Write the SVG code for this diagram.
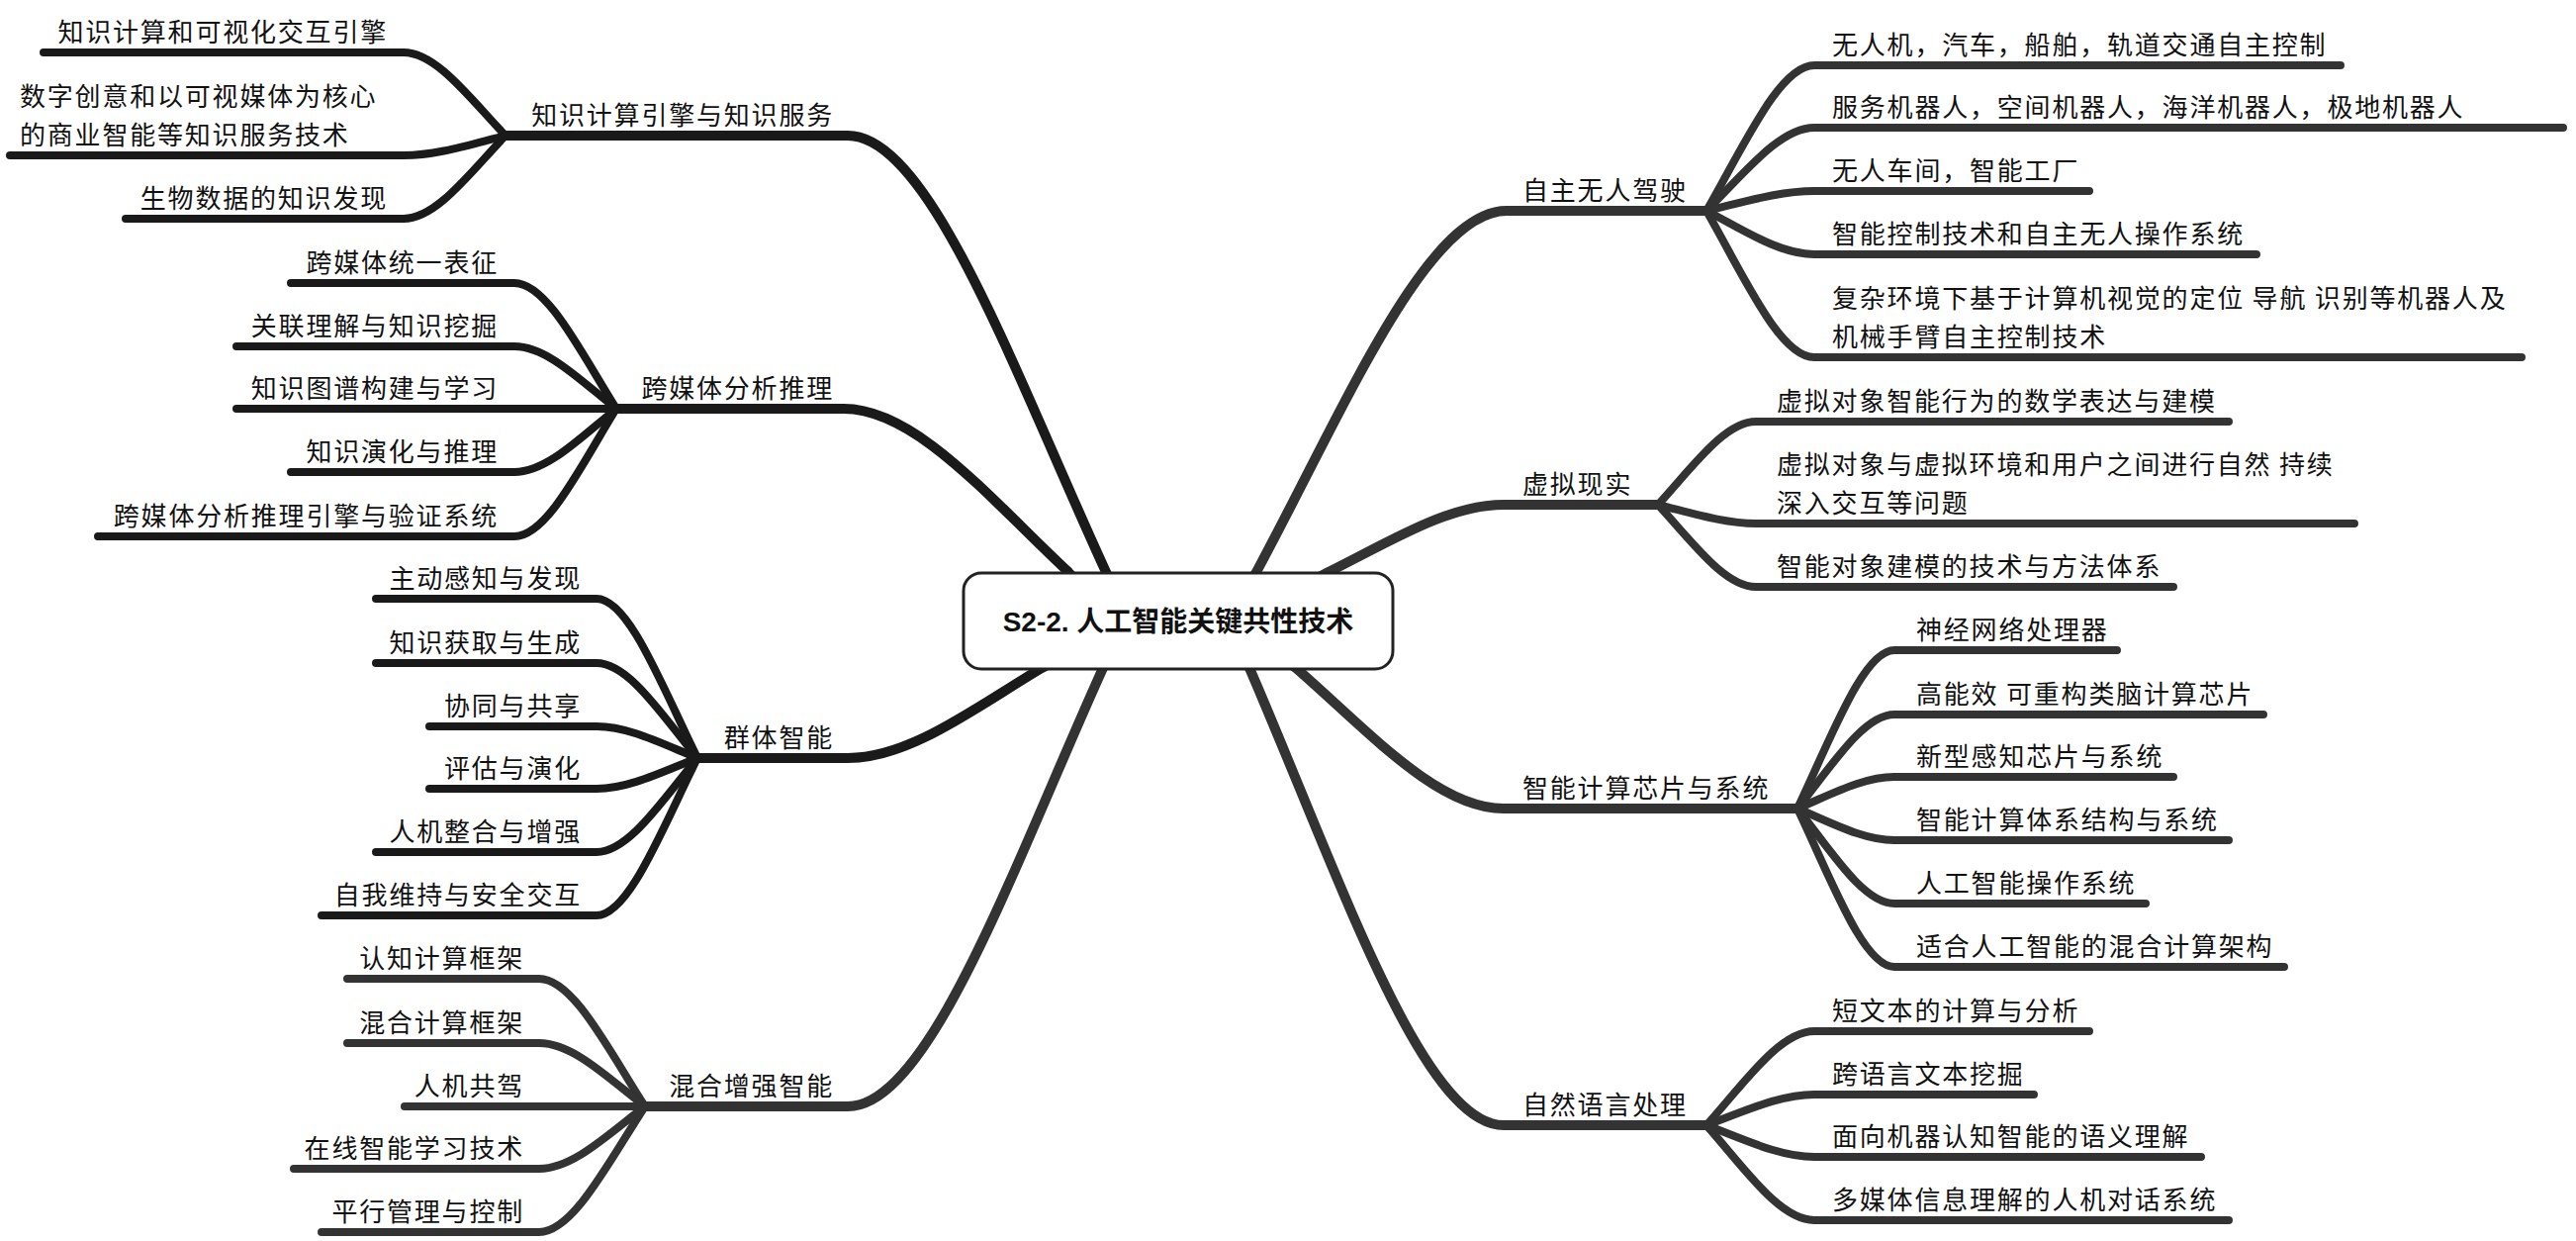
<svg xmlns="http://www.w3.org/2000/svg" width="2604" height="1254" viewBox="0 0 2604 1254">
<style>
.t{font-family:"Noto Sans CJK SC","Noto Sans",sans-serif;font-size:26px;letter-spacing:1.8px;fill:#111}
.e{text-anchor:end}
.root{font-family:"Liberation Sans","Noto Sans CJK SC",sans-serif;font-size:28px;font-weight:bold;fill:#111;text-anchor:middle}
.m{fill:none;stroke-width:10;stroke-linecap:round;stroke-linejoin:round}
.s{fill:none;stroke-width:8;stroke-linecap:round;stroke-linejoin:round}
.k{stroke:#1a1a1a}
.g{stroke:#333}
</style>
<rect width="2604" height="1254" fill="#fff"/>
<g id="connectors">
<!-- main branches -->
<path class="m k" d="M1124,592 L1118,578 C1026.6,379.5 940.5,137 857,137 H511"/>
<path class="m k" d="M1090,589 L1080,578 C1000.5,503.7 925.6,413 853,413 H623"/>
<path class="m k" d="M1066,668 L1053,675 C984.4,716 919.7,766 857,766 H705"/>
<path class="m g" d="M1121,662 L1115,675 C1024.7,874.4 939.6,1118 857,1118 H652"/>
<path class="m g" d="M1262,591 L1270,578 C1358.6,413.7 1442,213 1523,213 H1725"/>
<path class="m g" d="M1330,585 L1343,578 C1405,547.4 1463.4,510 1520,510 H1676"/>
<path class="m g" d="M1298,666 L1310,675 C1383.5,738.9 1452.8,817 1520,817 H1817"/>
<path class="m g" d="M1256,662 L1263,675 C1353,883 1437.8,1137 1520,1137 H1725"/>
<!-- 知识计算引擎与知识服务 -->
<path class="s k" d="M511,137 C475,99.2 441,53 408,53 H44"/>
<path class="s k" d="M511,137 C475,146 441,157 408,157 H10"/>
<path class="s k" d="M511,137 C475,174.8 441,221 408,221 H127"/>
<!-- 跨媒体分析推理 -->
<path class="s k" d="M623,413 C587,355.9 553,286 520,286 H294"/>
<path class="s k" d="M623,413 C587,384.7 553,350 520,350 H239"/>
<path class="s k" d="M623,413 H239"/>
<path class="s k" d="M623,413 C587,441.8 553,477 520,477 H294"/>
<path class="s k" d="M623,413 C587,471 553,542 520,542 H99"/>
<!-- 群体智能 -->
<path class="s k" d="M705,766 C669.3,693.6 635.6,605 603,605 H380"/>
<path class="s k" d="M705,766 C669.3,722.8 635.6,670 603,670 H380"/>
<path class="s k" d="M705,766 C669.3,751.6 635.6,734 603,734 H434"/>
<path class="s k" d="M705,766 C669.3,780 635.6,797 603,797 H434"/>
<path class="s k" d="M705,766 C669.3,808.8 635.6,861 603,861 H380"/>
<path class="s k" d="M705,766 C669.3,837.6 635.6,925 603,925 H325"/>
<!-- 混合增强智能 -->
<path class="s g" d="M652,1118 C614.6,1060 579.2,989 545,989 H351"/>
<path class="s g" d="M652,1118 C614.6,1089.2 579.2,1054 545,1054 H351"/>
<path class="s g" d="M652,1118 H409"/>
<path class="s g" d="M652,1118 C614.6,1146.4 579.2,1181 545,1181 H297"/>
<path class="s g" d="M652,1118 C614.6,1175.2 579.2,1245 545,1245 H325"/>
<!-- 自主无人驾驶 -->
<path class="s g" d="M1725,213 C1763.2,146.9 1799.1,66 1834,66 H2366"/>
<path class="s g" d="M1725,213 C1763.2,175.2 1799.1,129 1834,129 H2591"/>
<path class="s g" d="M1725,213 C1763.2,204 1799.1,193 1834,193 H2112"/>
<path class="s g" d="M1725,213 C1763.2,232.8 1799.1,257 1834,257 H2281"/>
<path class="s g" d="M1725,213 C1763.2,279.6 1799.1,361 1834,361 H2549"/>
<!-- 虚拟现实 -->
<path class="s g" d="M1676,510 C1710.7,472.2 1743.3,426 1775,426 H2253"/>
<path class="s g" d="M1676,510 C1710.7,518.6 1743.3,529 1775,529 H2380"/>
<path class="s g" d="M1676,510 C1710.7,547.4 1743.3,593 1775,593 H2197"/>
<!-- 智能计算芯片与系统 -->
<path class="s g" d="M1817,817 C1851.3,745 1883.6,657 1915,657 H2140"/>
<path class="s g" d="M1817,817 C1851.3,774.3 1883.6,722 1915,722 H2288"/>
<path class="s g" d="M1817,817 C1851.3,802.6 1883.6,785 1915,785 H2197"/>
<path class="s g" d="M1817,817 C1851.3,831.4 1883.6,849 1915,849 H2253"/>
<path class="s g" d="M1817,817 C1851.3,860.2 1883.6,913 1915,913 H2169"/>
<path class="s g" d="M1817,817 C1851.3,889 1883.6,977 1915,977 H2309"/>
<!-- 自然语言处理 -->
<path class="s g" d="M1725,1137 C1763.2,1094.3 1799.1,1042 1834,1042 H2112"/>
<path class="s g" d="M1725,1137 C1763.2,1123.1 1799.1,1106 1834,1106 H2056"/>
<path class="s g" d="M1725,1137 C1763.2,1151.4 1799.1,1169 1834,1169 H2225"/>
<path class="s g" d="M1725,1137 C1763.2,1180.2 1799.1,1233 1834,1233 H2253"/>
</g>
<g id="root">
<rect x="974" y="579" width="434" height="97" rx="18" fill="#fff" stroke="#222" stroke-width="3"/>
<text class="root" x="1191" y="638">S2-2. 人工智能关键共性技术</text>
</g>
<g id="n-zhishi">
<text class="t e" x="843" y="126">知识计算引擎与知识服务</text>
<text class="t e" x="392" y="42">知识计算和可视化交互引擎</text>
<text class="t" x="20" y="107">数字创意和以可视媒体为核心</text>
<text class="t" x="20" y="146">的商业智能等知识服务技术</text>
<text class="t e" x="392" y="210">生物数据的知识发现</text>
</g>
<g id="n-kuameiti">
<text class="t e" x="843" y="402">跨媒体分析推理</text>
<text class="t e" x="504" y="275">跨媒体统一表征</text>
<text class="t e" x="504" y="339">关联理解与知识挖掘</text>
<text class="t e" x="504" y="402">知识图谱构建与学习</text>
<text class="t e" x="504" y="466">知识演化与推理</text>
<text class="t e" x="504" y="531">跨媒体分析推理引擎与验证系统</text>
</g>
<g id="n-qunti">
<text class="t e" x="843" y="755">群体智能</text>
<text class="t e" x="588" y="594">主动感知与发现</text>
<text class="t e" x="588" y="659">知识获取与生成</text>
<text class="t e" x="588" y="723">协同与共享</text>
<text class="t e" x="588" y="786">评估与演化</text>
<text class="t e" x="588" y="850">人机整合与增强</text>
<text class="t e" x="588" y="914">自我维持与安全交互</text>
</g>
<g id="n-hunhe">
<text class="t e" x="843" y="1107">混合增强智能</text>
<text class="t e" x="530" y="978">认知计算框架</text>
<text class="t e" x="530" y="1043">混合计算框架</text>
<text class="t e" x="530" y="1107">人机共驾</text>
<text class="t e" x="530" y="1170">在线智能学习技术</text>
<text class="t e" x="530" y="1234">平行管理与控制</text>
</g>
<g id="n-zizhu">
<text class="t" x="1539" y="202">自主无人驾驶</text>
<text class="t" x="1852" y="55">无人机，汽车，船舶，轨道交通自主控制</text>
<text class="t" x="1852" y="118">服务机器人，空间机器人，海洋机器人，极地机器人</text>
<text class="t" x="1852" y="182">无人车间，智能工厂</text>
<text class="t" x="1852" y="246">智能控制技术和自主无人操作系统</text>
<text class="t" x="1852" y="311">复杂环境下基于计算机视觉的定位 导航 识别等机器人及</text>
<text class="t" x="1852" y="350">机械手臂自主控制技术</text>
</g>
<g id="n-xuni">
<text class="t" x="1539" y="499">虚拟现实</text>
<text class="t" x="1796" y="415">虚拟对象智能行为的数学表达与建模</text>
<text class="t" x="1796" y="479">虚拟对象与虚拟环境和用户之间进行自然 持续</text>
<text class="t" x="1796" y="518">深入交互等问题</text>
<text class="t" x="1796" y="582">智能对象建模的技术与方法体系</text>
</g>
<g id="n-xinpian">
<text class="t" x="1539" y="806">智能计算芯片与系统</text>
<text class="t" x="1937" y="646">神经网络处理器</text>
<text class="t" x="1937" y="711">高能效 可重构类脑计算芯片</text>
<text class="t" x="1937" y="774">新型感知芯片与系统</text>
<text class="t" x="1937" y="838">智能计算体系结构与系统</text>
<text class="t" x="1937" y="902">人工智能操作系统</text>
<text class="t" x="1937" y="966">适合人工智能的混合计算架构</text>
</g>
<g id="n-nlp">
<text class="t" x="1539" y="1126">自然语言处理</text>
<text class="t" x="1852" y="1031">短文本的计算与分析</text>
<text class="t" x="1852" y="1095">跨语言文本挖掘</text>
<text class="t" x="1852" y="1158">面向机器认知智能的语义理解</text>
<text class="t" x="1852" y="1222">多媒体信息理解的人机对话系统</text>
</g>
</svg>
